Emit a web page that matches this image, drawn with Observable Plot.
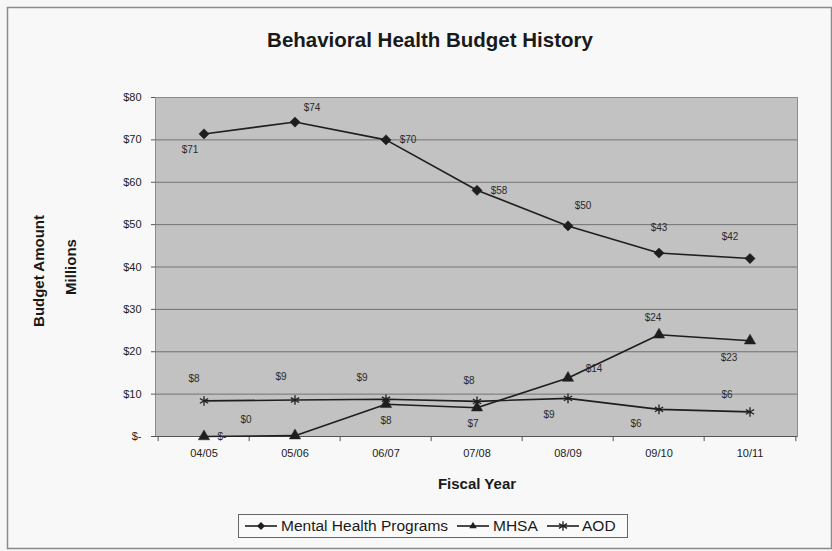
<!DOCTYPE html>
<html>
<head>
<meta charset="utf-8">
<script src="https://cdn.jsdelivr.net/npm/d3@7"></script>
<script src="https://cdn.jsdelivr.net/npm/@observablehq/plot@0.6"></script>
<style>
  html, body { margin: 0; padding: 0; background: #f6f6f6; }
</style>
</head>
<body>
<div id="chart"></div>
<script>
// ---- data ----
const years = ["04/05", "05/06", "06/07", "07/08", "08/09", "09/10", "10/11"];
const mentalHealth = [71.4, 74.2, 70.0, 58.1, 49.7, 43.3, 42.0];
const mhsa = [0, 0.2, 7.6, 6.8, 13.8, 24.0, 22.6];
const aod = [8.4, 8.6, 8.8, 8.3, 9.0, 6.4, 5.8];
const seriesNames = ["Mental Health Programs", "MHSA", "AOD"];
const yTicks = [0, 10, 20, 30, 40, 50, 60, 70, 80];

// ---- label placement (style, pixel offsets from each point) ----
const labelOffsets = {
  "Mental Health Programs": [[-14, 16], [17, -14], [22, 0], [22, 0], [15, -20], [0, -25], [-20, -22]],
  "MHSA": [[18, 0], [-49, -16], [0, 17], [-4, 16], [26, -9], [-6, -17], [-21, 17]],
  "AOD": [[-10, -22], [-14, -23], [-24, -21], [-8, -21], [-19, 16], [-23, 14], [-23, -17]]
};

const seriesValues = [mentalHealth, mhsa, aod];
const rows = seriesNames.flatMap((name, s) =>
  years.map((year, i) => ({ series: name, year, value: seriesValues[s][i], i }))
);
const fmt = v => (v === 0 ? "$-" : "$" + Math.round(v));
const ink = "#1e1e1e";
const font = "'Liberation Sans', Arial, sans-serif";

const W = 832, H = 551;
const mL = 155, mR = 35, mT = 97, mB = 115;
const bandHalf = (W - mL - mR) / years.length / 2;

const symbolFor = { "Mental Health Programs": "diamond2", "MHSA": "triangle", "AOD": "asterisk" };

const labelMarks = rows.map(r =>
  Plot.text([r], {
    x: "year", y: "value", text: d => fmt(d.value),
    dx: labelOffsets[r.series][r.i][0], dy: labelOffsets[r.series][r.i][1],
    fontSize: 10, fill: "#2a2a2a"
  })
);

const dotMarks = seriesNames.map(name => {
  const data = rows.filter(r => r.series === name);
  const sym = symbolFor[name];
  if (sym === "asterisk") {
    return Plot.dot(data, { x: "year", y: "value", symbol: () => "asterisk", r: 4.5, stroke: ink, strokeWidth: 1.3 });
  }
  return Plot.dot(data, { x: "year", y: "value", symbol: () => sym, r: sym === "diamond2" ? 4.6 : 4.2, fill: ink, stroke: ink, strokeWidth: 0.5 });
});

const plot = Plot.plot({
  width: W, height: H,
  marginLeft: mL, marginRight: mR, marginTop: mT, marginBottom: mB,
  style: { fontFamily: font, background: "#f6f6f6", overflow: "visible" },
  x: { type: "band", domain: years, padding: 0 },
  y: { domain: [0, 80] },
  symbol: { type: "identity" },
  marks: [
    Plot.frame({ fill: "#c2c2c2", stroke: "#8c8c8c" }),
    Plot.ruleY(yTicks.filter(t => t > 0 && t < 80), { stroke: "#727272", strokeWidth: 1 }),
    Plot.ruleY([0], { stroke: "#555", strokeWidth: 1 }),
    Plot.ruleX(years, { x: d => d, y1: 0, y2: -1.2, dx: -bandHalf, stroke: "#555" }),
    Plot.ruleX([years[years.length - 1]], { x: d => d, y1: 0, y2: -1.2, dx: bandHalf, stroke: "#555" }),
    Plot.axisY({ ticks: yTicks, tickFormat: fmt, tickSize: 4, tickPadding: 10, fontSize: 11, label: null, stroke: "#555", color: "#222" }),
    Plot.axisX({ tickSize: 0, tickPadding: 13, fontSize: 11, label: null, color: "#222" }),
    Plot.line(rows, { x: "year", y: "value", z: "series", stroke: ink, strokeWidth: 1.6 }),
    ...dotMarks,
    ...labelMarks
  ]
});

const svg = d3.select(plot);

// outer chart border
svg.insert("rect", ":first-child")
  .attr("x", 7.5).attr("y", 7.5).attr("width", W - 8).attr("height", H - 10)
  .attr("fill", "#f8f8f8").attr("stroke", "#8a8a8a").attr("stroke-width", 1.5);

// title
svg.append("text").attr("x", 430).attr("y", 47).attr("text-anchor", "middle")
  .attr("font-family", font).attr("font-size", 20.5).attr("font-weight", "bold").attr("fill", "#1a1a1a")
  .text("Behavioral Health Budget History");

// y titles
svg.append("text").attr("transform", "translate(44,271) rotate(-90)").attr("text-anchor", "middle")
  .attr("font-family", font).attr("font-size", 15).attr("font-weight", "bold").attr("fill", "#1a1a1a")
  .text("Budget Amount");
svg.append("text").attr("transform", "translate(76,267) rotate(-90)").attr("text-anchor", "middle")
  .attr("font-family", font).attr("font-size", 15).attr("font-weight", "bold").attr("fill", "#1a1a1a")
  .text("Millions");

// x title
svg.append("text").attr("x", 477).attr("y", 489).attr("text-anchor", "middle")
  .attr("font-family", font).attr("font-size", 15).attr("font-weight", "bold").attr("fill", "#1a1a1a")
  .text("Fiscal Year");

// legend
const lg = svg.append("g");
lg.append("rect").attr("x", 238.5).attr("y", 514.5).attr("width", 389).attr("height", 23)
  .attr("fill", "#fafafa").attr("stroke", "#666").attr("stroke-width", 1);
const items = [
  { name: seriesNames[0], x0: 245, tx: 281 },
  { name: seriesNames[1], x0: 457, tx: 493 },
  { name: seriesNames[2], x0: 547, tx: 582 }
];
const ly = 526;
items.forEach(it => {
  lg.append("line").attr("x1", it.x0).attr("x2", it.x0 + 32).attr("y1", ly).attr("y2", ly)
    .attr("stroke", ink).attr("stroke-width", 1.6);
  const sym = symbolFor[it.name];
  const d3sym = sym === "diamond2" ? d3.symbolDiamond2 : sym === "triangle" ? d3.symbolTriangle2 : d3.symbolAsterisk;
  const path = d3.symbol(d3sym, sym === "asterisk" ? 60 : 40)();
  const p = lg.append("path").attr("d", path).attr("transform", `translate(${it.x0 + 16},${ly})`);
  if (sym === "asterisk") p.attr("fill", "none").attr("stroke", ink).attr("stroke-width", 1.3);
  else p.attr("fill", ink);
  lg.append("text").attr("x", it.tx).attr("y", ly).attr("dy", "0.35em").attr("text-anchor", "start")
    .attr("font-family", font).attr("font-size", 15.5).attr("fill", "#1a1a1a").text(it.name);
});

document.getElementById("chart").appendChild(plot);
</script>
</body>
</html>
